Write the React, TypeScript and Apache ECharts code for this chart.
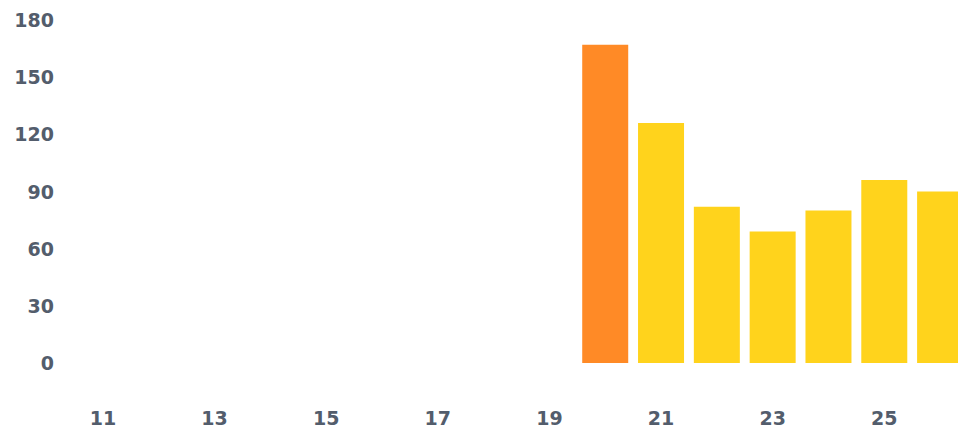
import React, { useEffect, useRef } from "react";
import * as echarts from "echarts";

const categories = ["11", "12", "13", "14", "15", "16", "17", "18", "19", "20", "21", "22", "23", "24", "25", "26"];
const values: (number | null)[] = [null, null, null, null, null, null, null, null, null, 167, 126, 82, 69, 80, 96, 90];
const highlightCategory = "20";
const yTicks = [0, 30, 60, 90, 120, 150, 180];

export default function App() {
  const ref = useRef<HTMLDivElement>(null);
  useEffect(() => {
    if (!ref.current) return;
    const chart = echarts.init(ref.current, null, { renderer: "svg" });
    const labelStyle = {
      color: "#535d6c",
      fontFamily: "DejaVu Sans",
      fontWeight: "bold" as const,
      fontSize: 19,
    };
    chart.setOption({
      animation: false,
      backgroundColor: "#ffffff",
      grid: { left: 75, top: 20, width: 893, height: 343 },
      xAxis: {
        type: "category",
        data: categories,
        axisLine: { show: false },
        axisTick: { show: false },
        axisLabel: { ...labelStyle, interval: 1, margin: 45 },
      },
      yAxis: {
        type: "value",
        min: yTicks[0],
        max: yTicks[yTicks.length - 1],
        interval: 30,
        axisLine: { show: false },
        axisTick: { show: false },
        splitLine: { show: false },
        axisLabel: { ...labelStyle, margin: 21 },
      },
      series: [
        {
          type: "bar",
          barWidth: 46,
          data: values.map((v, i) => ({
            value: v,
            itemStyle: {
              color: categories[i] === highlightCategory ? "#ff8a26" : "#ffd31c",
            },
          })),
        },
      ],
    });
    return () => chart.dispose();
  }, []);
  return (
    <div
      style={{ position: "fixed", left: 0, top: 0, width: 958, height: 439, overflow: "hidden", background: "#fff" }}
    >
      <div ref={ref} style={{ width: 1000, height: 439 }} />
    </div>
  );
}
